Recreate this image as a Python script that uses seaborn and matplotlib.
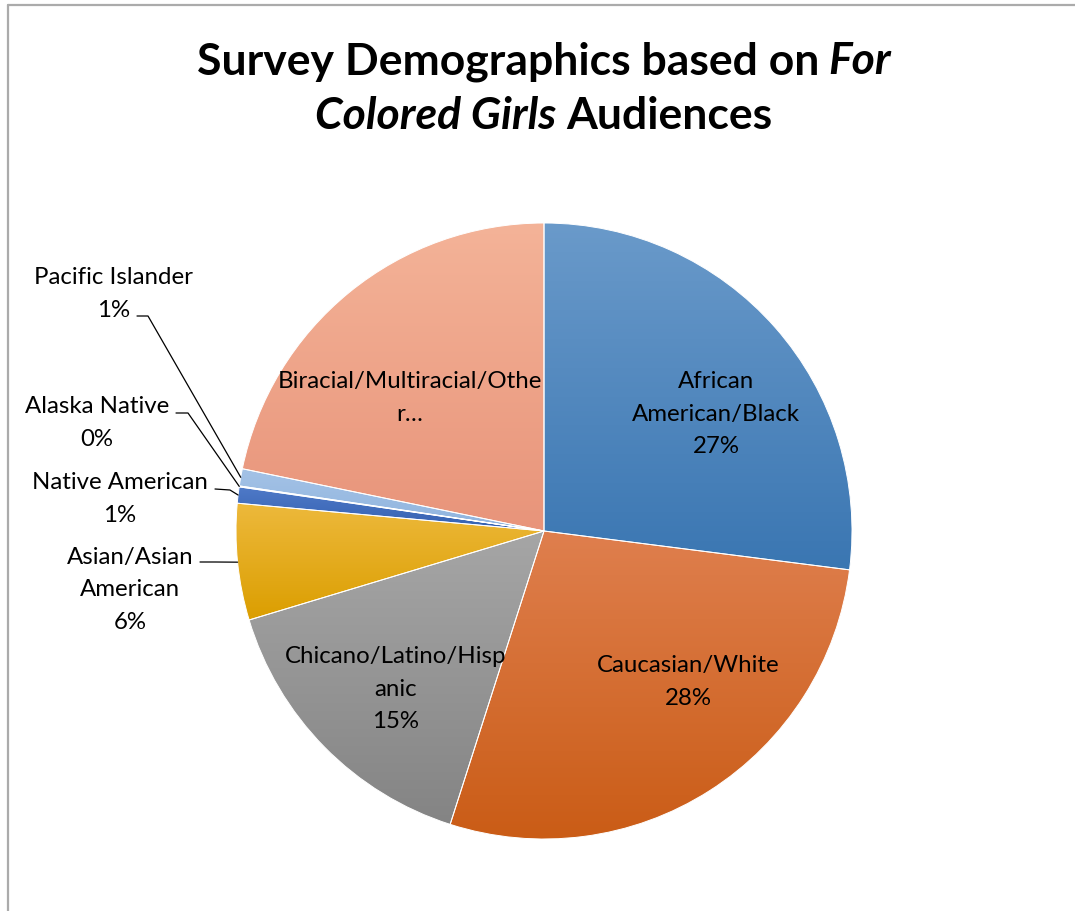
import numpy as np
import matplotlib.pyplot as plt
import matplotlib.colors as mcolors
from matplotlib.lines import Line2D
import seaborn as sns

# --- data -------------------------------------------------------------
categories = ["African American/Black", "Caucasian/White", "Chicano/Latino/Hispanic",
              "Asian/Asian American", "Native American", "Alaska Native",
              "Pacific Islander", "Biracial/Multiracial/Other"]
shares = [27.0, 27.9, 15.4, 6.1, 0.85, 0.05, 0.9, 21.75]
# label text as wrapped/truncated in the original chart
display_names = ["African\nAmerican/Black", "Caucasian/White", "Chicano/Latino/Hisp\nanic",
                 "Asian/Asian\nAmerican", "Native American", "Alaska Native",
                 "Pacific Islander", "Biracial/Multiracial/Othe\nr\u2026"]
show_pct = [True, True, True, True, True, True, True, False]

# gradient colours (top, bottom) per slice
top_colors = ["#6A9ACA", "#DF7F4E", "#A6A6A6", "#EDB93C", "#4F7AC8", "#4F7AC8", "#A4C2E6", "#F4B398"]
bot_colors = ["#3A76B2", "#CA5C16", "#848484", "#DB9E00", "#3460B0", "#3460B0", "#8FB4DE", "#E8947A"]

W, H = 1075, 911
CX, CY, R = 544, 531, 308  # pie centre / radius in pixels (from top)

sns.set_theme(style="white")
plt.rcParams['font.family'] = ['Lato', 'DejaVu Sans']

fig = plt.figure(figsize=(W / 100, H / 100), dpi=100)
ax = fig.add_axes([0, 0, 1, 1])

wedges, _ = ax.pie(shares, colors=bot_colors, startangle=90, counterclock=False,
                   center=(CX, H - CY), radius=R,
                   wedgeprops=dict(linewidth=0.7, edgecolor="white"))

# vertical gradient inside every wedge
for w, c0, c1 in zip(wedges, top_colors, bot_colors):
    ext = w.get_path().get_extents()
    cmap = mcolors.LinearSegmentedColormap.from_list("g", [c1, c0])
    grad = np.linspace(0, 1, 256).reshape(-1, 1)
    im = ax.imshow(grad, cmap=cmap, extent=[ext.x0, ext.x1, ext.y0, ext.y1],
                   origin="lower", aspect="auto", zorder=1, interpolation="bilinear")
    im.set_clip_path(w)
    w.set_facecolor("none")
    w.set_zorder(2)

ax.set_xlim(0, W)
ax.set_ylim(0, H)
ax.set_aspect("equal")
ax.axis("off")


def lbl(i):
    s = display_names[i]
    if show_pct[i]:
        s += "\n%d%%" % round(shares[i])
    return s


LS = 1.68
FS = 17.3
# labels inside the slices (pixel centre of text block)
inside_pos = {0: (716, 414), 1: (688, 682), 2: (396, 689), 7: (410, 398)}
for i, (x, y) in inside_pos.items():
    ax.text(x, H - y, lbl(i), ha="center", va="center", fontsize=FS,
            linespacing=LS, color="black", zorder=5)

# labels outside with leader lines: text centre, line start, elbow
outside = {
    6: ((114, 294), (137, 316), (148, 316)),
    5: ((97, 423), (176, 413), (188, 413)),
    4: ((120, 499), (215, 489), (230, 490)),
    3: ((130, 590), (200, 562), (215, 562)),
}
for i, ((tx, ty), (sx, sy), (ex, ey)) in outside.items():
    ax.text(tx, H - ty, lbl(i), ha="center", va="center", fontsize=FS,
            linespacing=LS, color="black", zorder=5)
    w = wedges[i]
    mid = np.deg2rad((w.theta1 + w.theta2) / 2)
    px = CX + R * np.cos(mid)
    py = (H - CY) + R * np.sin(mid)
    ax.plot([sx, ex, px], [H - sy, H - ey, py], color="black", lw=0.9, zorder=4)

# title with mixed bold / bold italic runs
renderer = fig.canvas.get_renderer()
TS = 32


def title_line(parts, y):
    ts = []
    for s, st in parts:
        t = fig.text(0, 1 - y / H, s, fontsize=TS, fontweight="bold", fontstyle=st,
                     va="baseline", ha="left", color="black")
        ts.append(t)
    gap = TS * 100 / 72 * 0.22
    widths = [t.get_window_extent(renderer).width for t in ts]
    total = sum(widths) + gap * (len(ts) - 1)
    x = CX - total / 2
    for t, wdt in zip(ts, widths):
        t.set_x(x / W)
        x += wdt + gap


title_line([("Survey Demographics based on", "normal"), ("For", "italic")], 74)
title_line([("Colored Girls", "italic"), ("Audiences", "normal")], 129)

# chart frame (cropped on right and bottom)
fig.add_artist(Line2D([7.5 / W, 7.5 / W], [0, 1 - 5 / H], color="#ABABAB", lw=1.6,
                      transform=fig.transFigure))
fig.add_artist(Line2D([7.5 / W, 1], [1 - 5 / H, 1 - 5 / H], color="#ABABAB", lw=1.6,
                      transform=fig.transFigure))

fig.savefig("out.png", dpi=100)
